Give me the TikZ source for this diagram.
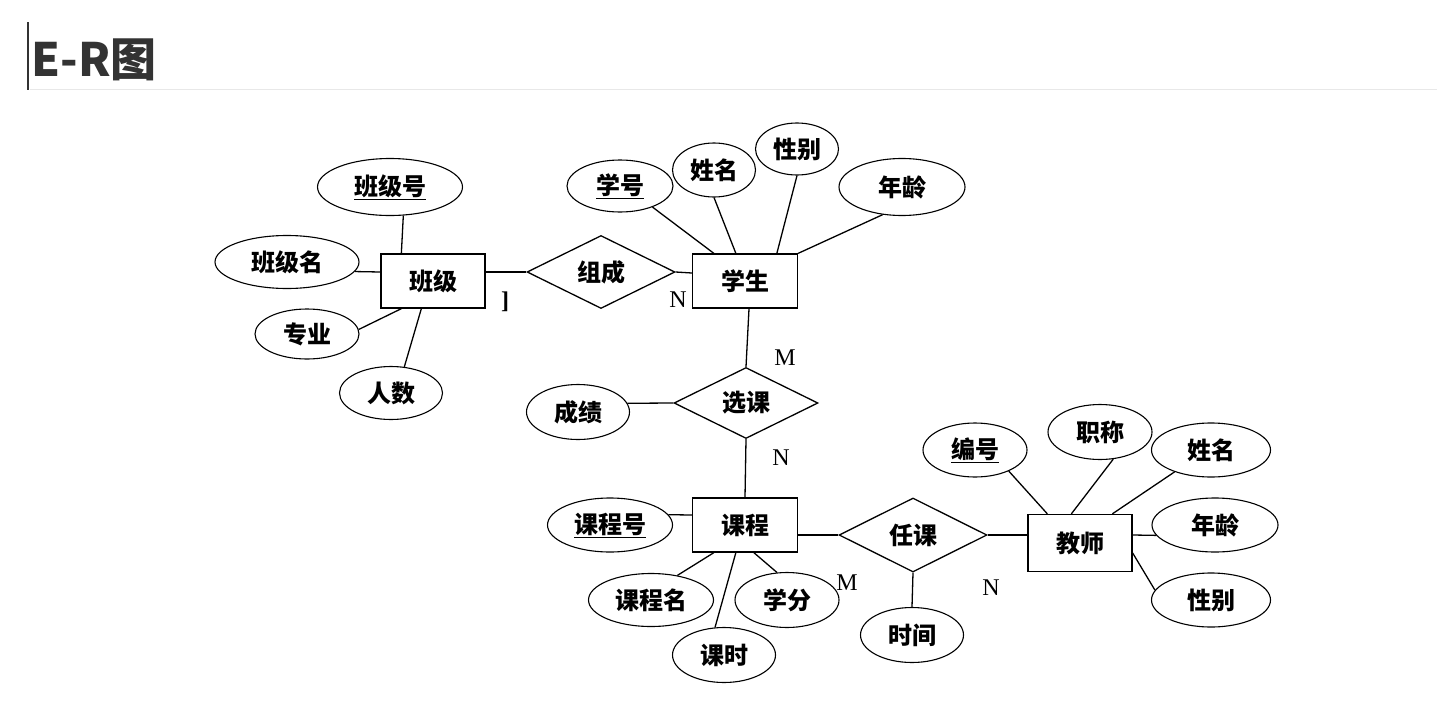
\documentclass[tikz,border=0pt]{standalone}
\usepackage{fontspec}
\usepackage{tikz}
\usetikzlibrary{shapes.geometric}
\setmainfont{Liberation Serif}
\newfontfamily\cjk{Noto Sans CJK SC}
\definecolor{titlegray}{RGB}{51,51,51}
\definecolor{rulegray}{RGB}{232,232,232}

\begin{document}
\begin{tikzpicture}[x=1pt, y=-1pt, line width=1.3pt,
        entity/.style={draw, rectangle, inner sep=0pt, minimum width=104pt, minimum height=54pt,
            font={\cjk\bfseries\fontsize{24pt}{24pt}\selectfont}},
        relation/.style={draw, diamond, aspect=2, inner sep=0pt, minimum width=148pt, minimum height=73pt,
            font={\cjk\bfseries\fontsize{24pt}{24pt}\selectfont}},
        attr/.style={draw, ellipse, inner sep=0pt, line width=1.1pt,
            font={\cjk\bfseries\fontsize{24pt}{24pt}\selectfont}},
        card/.style={inner sep=0pt, font={\fontsize{24pt}{24pt}\selectfont}}]
    \useasboundingbox (0,0) rectangle (1437,712);

    % title
    \node[anchor=base west, inner sep=0pt, text=titlegray,
        font={\cjk\bfseries\fontsize{46pt}{46pt}\selectfont}] (title) at (31,76) {E-R图};
    \draw[titlegray, line width=2.5pt] (28,22) -- (28,90);
    \draw[rulegray, line width=1pt] (30,89) -- (1437,89);

    % entities
    \node[entity] (bj) at (433,281) {班级};
    \node[entity, minimum width=105pt] (xs) at (745,281) {学生};
    \node[entity, minimum width=105pt] (kc) at (745,525) {课程};
    \node[entity, minimum height=57pt] (js) at (1080,543) {教师};

    % relations
    \node[relation] (zc) at (601,272) {组成};
    \node[relation, minimum width=144pt, minimum height=71pt] (xk) at (746,403) {选课};
    \node[relation, minimum height=74pt] (rk) at (913,535) {任课};

    % attributes of 班级
    \node[attr, minimum width=145pt, minimum height=57pt] (bjh) at (390,187) {\underline{班级号}};
    \node[attr, minimum width=144pt, minimum height=53pt] (bjm) at (287,262) {班级名};
    \node[attr, minimum width=104pt, minimum height=50pt] (zy) at (307,334) {专业};
    \node[attr, minimum width=103pt, minimum height=53pt] (rs) at (391,393) {人数};

    % attributes of 学生
    \node[attr, minimum width=106pt, minimum height=52pt] (xh) at (620,186) {\underline{学号}};
    \node[attr, minimum width=83pt, minimum height=54pt] (xm) at (714,170) {姓名};
    \node[attr, minimum width=83pt, minimum height=52pt] (xb) at (797,149) {性别};
    \node[attr, minimum width=126pt, minimum height=57pt] (nl) at (902,187) {年龄};

    % attributes of 选课, 课程, 任课
    \node[attr, minimum width=103pt, minimum height=55pt] (cj) at (578,412) {成绩};
    \node[attr, minimum width=125pt, minimum height=54pt] (kch) at (610,525) {\underline{课程号}};
    \node[attr, minimum width=125pt, minimum height=53pt] (kcm) at (651,600) {课程名};
    \node[attr, minimum width=103pt, minimum height=55pt] (ks) at (724,655) {课时};
    \node[attr, minimum width=104pt, minimum height=55pt] (xf) at (787,600) {学分};
    \node[attr, minimum width=103pt, minimum height=55pt] (sj) at (912,635) {时间};

    % attributes of 教师
    \node[attr, minimum width=104pt, minimum height=54pt] (bh) at (975,450) {\underline{编号}};
    \node[attr, minimum width=104pt, minimum height=55pt] (zcc) at (1100,432) {职称};
    \node[attr, minimum width=119pt, minimum height=54pt] (tm) at (1211,450) {姓名};
    \node[attr, minimum width=126pt, minimum height=54pt] (tn) at (1215,525) {年龄};
    \node[attr, minimum width=119pt, minimum height=54pt] (tb) at (1211,600) {性别};

    % cardinalities
    \node[card] (c1) at (505,302) {\textbf{]}};
    \node[card] (c2) at (678,300) {N};
    \node[card] (c3) at (785,358) {M};
    \node[card] (c4) at (781,458) {N};
    \node[card] (c5) at (847,583) {M};
    \node[card] (c6) at (991,588) {N};

    % links
    \draw (bjh.-65) -- ([xshift=21pt]bj.north west);
    \draw (bjm.-8) -- ([yshift=9pt]bj.west);
    \draw (zy.5) -- ([xshift=21pt]bj.south west);
    \draw (rs.63) -- ([xshift=41pt]bj.south west);
    \draw ([yshift=9pt]bj.east) -- (zc.west);
    \draw (zc.east) -- ([yshift=8pt]xs.west);
    \draw (xh.-33) -- ([xshift=22pt]xs.north west);
    \draw (xm.south) -- ([xshift=44pt]xs.north west);
    \draw (xb.south) -- ([xshift=85pt]xs.north west);
    \draw (nl.-125) -- (xs.north east);
    \draw ([xshift=4pt]xs.south) -- (xk.north);
    \draw (cj.10) -- (xk.west);
    \draw (xk.south) -- (kc.north);
    \draw (kch.10) -- ([yshift=10pt]kc.west);
    \draw (kcm.43) -- ([xshift=22pt]kc.south west);
    \draw (ks.108) -- ([xshift=44pt]kc.south west);
    \draw (xf.110) -- ([xshift=62pt]kc.south west);
    \draw ([yshift=-10pt]kc.east) -- (rk.west);
    \draw (rk.south) -- (sj.north);
    \draw (rk.east) -- ([yshift=8pt]js.west);
    \draw (bh.-32) -- ([xshift=20pt]js.north west);
    \draw (zcc.-64) -- ([xshift=44pt]js.north west);
    \draw (tm.-149) -- ([xshift=85pt]js.north west);
    \draw ([yshift=8pt]js.east) -- (tn.-170);
    \draw ([yshift=-10pt]js.east) -- (tb.170);
\end{tikzpicture}
\end{document}
